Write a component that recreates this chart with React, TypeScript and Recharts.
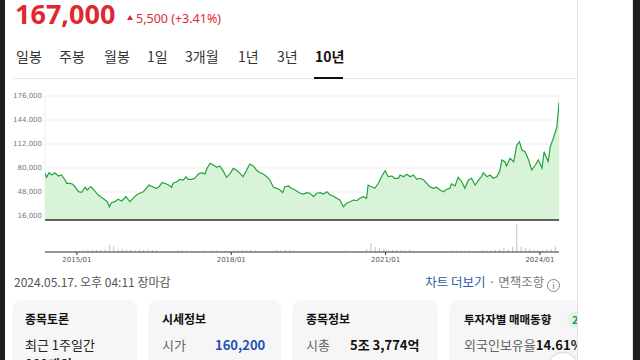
import React from "react";
import { AreaChart, Area, BarChart, Bar, XAxis, YAxis, CartesianGrid } from "recharts";

// price line (fractional years)
const priceDates = [
  2014.38, 2014.41, 2014.46, 2014.51, 2014.57, 2014.64, 2014.7, 2014.77, 2014.8, 2014.86,
  2014.92, 2014.96, 2015.03, 2015.09, 2015.16, 2015.2, 2015.27, 2015.33, 2015.4, 2015.46,
  2015.53, 2015.59, 2015.63, 2015.67, 2015.74, 2015.8, 2015.87, 2015.95, 2016.03, 2016.09,
  2016.16, 2016.22, 2016.29, 2016.35, 2016.4, 2016.47, 2016.54, 2016.6, 2016.65, 2016.71,
  2016.78, 2016.84, 2016.87, 2016.94, 2017.0, 2017.07, 2017.12, 2017.16, 2017.23, 2017.29,
  2017.36, 2017.42, 2017.49, 2017.53, 2017.59, 2017.65, 2017.72, 2017.78, 2017.85, 2017.91,
  2017.98, 2018.04, 2018.1, 2018.17, 2018.23, 2018.3, 2018.36, 2018.43, 2018.49, 2018.56,
  2018.62, 2018.69, 2018.75, 2018.82, 2018.88, 2018.95, 2019.0, 2019.04, 2019.11, 2019.17,
  2019.24, 2019.34, 2019.4, 2019.47, 2019.53, 2019.6, 2019.66, 2019.73, 2019.79, 2019.86,
  2019.92, 2019.98, 2020.05, 2020.11, 2020.18, 2020.24, 2020.31, 2020.37, 2020.44, 2020.5,
  2020.57, 2020.63, 2020.66, 2020.73, 2020.79, 2020.86, 2020.92, 2020.99, 2021.05, 2021.12,
  2021.18, 2021.25, 2021.28, 2021.35, 2021.41, 2021.48, 2021.54, 2021.61, 2021.67, 2021.74,
  2021.8, 2021.86, 2021.93, 2021.99, 2022.06, 2022.12, 2022.19, 2022.25, 2022.28, 2022.35,
  2022.41, 2022.48, 2022.54, 2022.61, 2022.67, 2022.74, 2022.8, 2022.87, 2022.9, 2022.97,
  2023.03, 2023.09, 2023.16, 2023.22, 2023.26, 2023.32, 2023.35, 2023.42, 2023.49, 2023.55,
  2023.6, 2023.65, 2023.71, 2023.78, 2023.84, 2023.91, 2023.97, 2024.04, 2024.08, 2024.13,
  2024.16, 2024.2, 2024.26, 2024.3, 2024.33, 2024.37,
];

const prices = [
  72900, 67600, 73700, 70700, 73700, 69300, 70700, 64000, 59600, 59600,
  58300, 55100, 48400, 47600, 54300, 50700, 55100, 50700, 44900, 41700,
  38300, 35100, 28400, 33700, 35100, 38300, 36000, 41700, 35100, 39600,
  44000, 46300, 48400, 52900, 57300, 55100, 52900, 55100, 60400, 59600,
  57300, 54300, 59600, 61700, 64900, 64000, 68400, 64900, 64900, 66300,
  72000, 73700, 72000, 79600, 86300, 84000, 80900, 82700, 75100, 67600,
  72900, 79600, 77300, 72900, 68400, 77300, 85300, 82700, 77300, 73700,
  72000, 68400, 64000, 54300, 52900, 50700, 47100, 55100, 56000, 52900,
  50700, 46300, 45300, 47100, 46300, 41700, 46300, 47100, 45300, 48400,
  44000, 42700, 39600, 37300, 28400, 32900, 35100, 37300, 36400, 39600,
  41700, 39600, 57300, 55100, 52900, 59600, 68400, 76400, 68400, 69300,
  66300, 66300, 70700, 68400, 71600, 68400, 70700, 64900, 66300, 64000,
  59600, 55100, 52900, 54300, 50700, 48400, 51600, 52900, 58700, 56000,
  67600, 61700, 52900, 64000, 66300, 57300, 63100, 69300, 73700, 68400,
  70700, 66300, 68400, 76400, 90700, 88400, 82700, 92900, 88400, 110700,
  115100, 104000, 101700, 90700, 77300, 84000, 90700, 79600, 101700, 92900,
  88400, 108400, 119600, 128400, 135100, 167000,
];

// monthly volume, starting 2014/05
const volumeStart = { year: 2014, month: 5 };
const volumes = [
  100, 100, 100, 100, 100, 100, 100, 100,
  100, 150, 200, 200, 200, 200, 250, 700, 600, 300, 250, 250,
  250, 200, 250, 200, 250, 200, 150, 100, 100, 100, 100, 150,
  200, 150, 100, 100, 100, 150, 100, 150, 150, 100, 100, 100,
  150, 200, 200, 200, 200, 150, 100, 100, 100, 100, 200, 150,
  200, 200, 150, 100, 100, 100, 100, 100, 100, 100, 100, 100,
  100, 100, 150, 100, 100, 100, 100, 300, 900, 500, 400, 300,
  250, 200, 200, 200, 150, 200, 100, 100, 100, 100, 100, 100,
  100, 100, 100, 150, 150, 100, 100, 150, 100, 100, 150, 150,
  150, 200, 300, 400, 300, 500, 2800, 500, 400, 300, 200, 200,
  200, 250, 300, 600, 500,
];

const yearTicks = [2015, 2018, 2021, 2024];
const priceTicks = [16000, 48000, 80000, 112000, 144000, 176000];
const tabs = ["일봉", "주봉", "월봉", "1일", "3개월", "1년", "3년", "10년"];

const priceData = priceDates.map((t, i) => ({ t, price: prices[i] }));
const volumeData = volumes.map((v, i) => ({
  t: volumeStart.year + (volumeStart.month - 1 + i + 0.5) / 12,
  volume: v,
}));

const kr = "'Noto Sans CJK KR', 'Noto Sans', sans-serif";
const xDomain = [2014.38, 2024.37];

const abs = (left: number, top: number, extra: React.CSSProperties = {}): React.CSSProperties => ({
  position: "absolute",
  left,
  top,
  whiteSpace: "nowrap",
  lineHeight: "20px",
  ...extra,
});

function Card({ left, width, children }: { left: number; width: number; children: React.ReactNode }) {
  return (
    <div
      style={{
        position: "absolute",
        left,
        top: 300,
        width,
        height: 90,
        borderRadius: 10,
        background: "#f6f6f7",
        overflow: "hidden",
      }}
    >
      {children}
    </div>
  );
}

export default function App() {
  const tabX = [16, 59, 104, 147, 185, 238, 277, 315];
  return (
    <div
      style={{
        position: "fixed",
        left: 0,
        top: 0,
        width: 640,
        height: 360,
        background: "#fff",
        overflow: "hidden",
        fontFamily: kr,
      }}
    >
      <div style={{ position: "absolute", left: 0, top: 0, width: 577, height: 360, overflow: "hidden" }}>
        {/* header */}
        <div
          style={abs(15, 0.5, {
            fontSize: 27,
            fontWeight: 700,
            color: "#e0282e",
            fontFamily: "'Noto Sans', sans-serif",
            lineHeight: "26px",
          })}
        >
          167,000
        </div>
        <div
          style={{
            position: "absolute",
            left: 127,
            top: 15,
            width: 0,
            height: 0,
            borderLeft: "3px solid transparent",
            borderRight: "3px solid transparent",
            borderBottom: "5px solid #e0282e",
          }}
        />
        <div style={abs(136, 10, { fontSize: 12.5, color: "#e0282e", fontFamily: "'Noto Sans', sans-serif", lineHeight: "18px" })}>
          5,500 (+3.41%)
        </div>

        {tabs.map((t, i) => (
          <div
            key={t}
            style={abs(tabX[i], 46, {
              fontSize: 14,
              color: i === tabs.length - 1 ? "#111" : "#333",
              fontWeight: i === tabs.length - 1 ? 700 : 400,
            })}
          >
            {t}
          </div>
        ))}
        <div style={{ position: "absolute", left: 13, top: 78, width: 564, height: 1, background: "#e8e8e8" }} />
        <div style={{ position: "absolute", left: 314, top: 77, width: 29, height: 2, background: "#111" }} />

        {/* price chart */}
        <div style={{ position: "absolute", left: 0, top: 86 }}>
          <AreaChart width={600} height={140} data={priceData} margin={{ top: 10, right: 41, left: 0, bottom: 5 }}>
            <CartesianGrid stroke="#eeeeee" />
            <XAxis
              dataKey="t"
              type="number"
              domain={xDomain}
              ticks={yearTicks}
              tick={false}
              tickLine={false}
              height={1}
              axisLine={{ stroke: "#333", strokeWidth: 1.5 }}
              allowDataOverflow
            />
            <YAxis
              type="number"
              domain={[10667, 176000]}
              ticks={priceTicks}
              width={45}
              axisLine={false}
              tickLine={false}
              tickSize={0}
              tickMargin={3}
              allowDataOverflow
              tick={{ fontSize: 7, fill: "#777", fontFamily: "'DejaVu Sans', sans-serif" }}
              tickFormatter={(v: number) => v.toLocaleString("en-US")}
            />
            <Area
              type="linear"
              dataKey="price"
              stroke="#22a53a"
              strokeWidth={1.2}
              fill="#d8f3d8"
              fillOpacity={1}
              isAnimationActive={false}
            />
          </AreaChart>
        </div>

        {/* volume chart */}
        <div style={{ position: "absolute", left: 0, top: 215 }}>
          <BarChart width={600} height={60} data={volumeData} margin={{ top: 7, right: 41, left: 45, bottom: 0 }}>
            <XAxis
              dataKey="t"
              type="number"
              domain={xDomain}
              ticks={yearTicks}
              height={23}
              tickSize={3}
              tickMargin={2}
              axisLine={{ stroke: "#333" }}
              tickLine={{ stroke: "#333" }}
              tick={{ fontSize: 7, fill: "#555", fontFamily: "'DejaVu Sans', sans-serif" }}
              tickFormatter={(v: number) => `${v}/01`}
              allowDataOverflow
            />
            <YAxis hide domain={[0, 3000]} />
            <Bar dataKey="volume" fill="#c4c4c4" barSize={1} isAnimationActive={false} />
          </BarChart>
        </div>

        {/* footer line */}
        <div style={abs(14, 272, { fontSize: 12, color: "#555" })}>2024.05.17. 오후 04:11 장마감</div>
        <div style={{ position: "absolute", right: 17, top: 272, whiteSpace: "nowrap", lineHeight: "20px", fontSize: 12.5 }}>
          <span style={{ color: "#2a5ca8" }}>차트 더보기</span>
          <span style={{ color: "#777" }}> · 면책조항 </span>
          <span
            style={{
              display: "inline-block",
              width: 11,
              height: 11,
              border: "1px solid #888",
              borderRadius: "50%",
              fontSize: 9,
              lineHeight: "11px",
              textAlign: "center",
              color: "#777",
              verticalAlign: "-2px",
            }}
          >
            i
          </span>
        </div>

        {/* cards */}
        <Card left={12} width={125}>
          <div style={abs(13, 9, { fontSize: 12, fontWeight: 700, color: "#111" })}>종목토론</div>
          <div style={abs(13, 34.5, { fontSize: 13, color: "#222" })}>최근 1주일간</div>
          <div style={abs(13, 53.5, { fontSize: 13, color: "#222", fontWeight: 700 })}>000개의</div>
        </Card>
        <Card left={148} width={133}>
          <div style={abs(14, 9, { fontSize: 12, fontWeight: 700, color: "#111" })}>시세정보</div>
          <div style={abs(14, 34.5, { fontSize: 13, color: "#666" })}>시가</div>
          <div style={abs(67, 34.5, { fontSize: 13, color: "#1f52b3", fontWeight: 700 })}>160,200</div>
        </Card>
        <Card left={292} width={146}>
          <div style={abs(14, 9, { fontSize: 12, fontWeight: 700, color: "#111" })}>종목정보</div>
          <div style={abs(14, 34.5, { fontSize: 13, color: "#666" })}>시총</div>
          <div style={abs(58, 34.5, { fontSize: 13, color: "#111", fontWeight: 700 })}>5조 3,774억</div>
        </Card>
        <Card left={449} width={170}>
          <div style={abs(15, 9, { fontSize: 11.5, fontWeight: 700, color: "#111" })}>투자자별 매매동향</div>
          <div
            style={abs(118, 12, {
              fontSize: 10.5,
              lineHeight: "16px",
              padding: "0 5px",
              borderRadius: 8,
              background: "#e2f4e9",
              color: "#12a05c",
              fontWeight: 700,
            })}
          >
            24.05.17
          </div>
          <div style={abs(15, 34.5, { fontSize: 13, color: "#666" })}>
            외국인보유율<span style={{ color: "#111", fontWeight: 700 }}>14.61%</span>
          </div>
        </Card>
        <div
          style={{
            position: "absolute",
            left: 547,
            top: 352,
            width: 30,
            height: 30,
            borderRadius: "50%",
            background: "#fff",
            border: "1px solid #ddd",
            boxShadow: "0 1px 3px rgba(0,0,0,0.15)",
            color: "#555",
            fontSize: 14,
            lineHeight: "28px",
            textAlign: "center",
          }}
        >
          ›
        </div>
      </div>

      <div style={{ position: "absolute", left: 0, top: 0, width: 5, height: 360, background: "#1e1e1e" }} />
      <div style={{ position: "absolute", left: 577, top: 0, width: 1, height: 360, background: "#e3e3e3" }} />
      <div style={{ position: "absolute", left: 632, top: 0, width: 1, height: 360, background: "#e6e6e6" }} />
      <div style={{ position: "absolute", left: 633, top: 0, width: 7, height: 360, background: "#1e1e1e" }} />
    </div>
  );
}
